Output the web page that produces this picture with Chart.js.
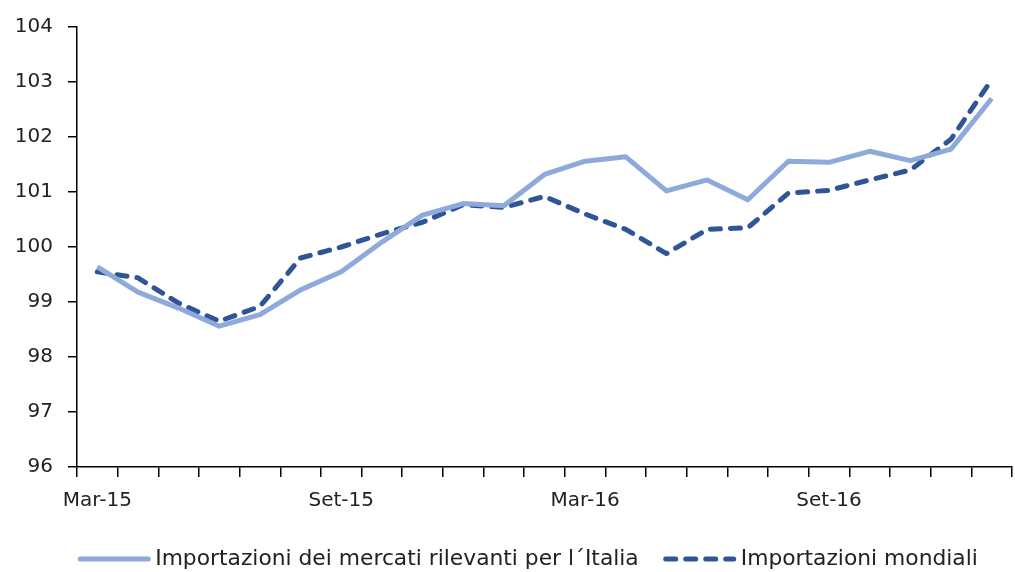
<!DOCTYPE html>
<html>
<head>
<meta charset="utf-8">
<script src="https://cdn.jsdelivr.net/npm/chart.js@4/dist/chart.umd.min.js"></script>
<style>
  html, body { margin: 0; padding: 0; background: #fff; }
  #wrap { width: 1015px; height: 572px; }
</style>
</head>
<body>
<div id="wrap"><canvas id="c" width="1015" height="572"></canvas></div>
<script>
// Monthly index, Mar-15 .. Gen-17
const months = ['Mar-15','Apr-15','Mag-15','Giu-15','Lug-15','Ago-15','Set-15','Ott-15','Nov-15','Dic-15','Gen-16','Feb-16',
                'Mar-16','Apr-16','Mag-16','Giu-16','Lug-16','Ago-16','Set-16','Ott-16','Nov-16','Dic-16','Gen-17'];
const shownMonths = ['Mar-15','Set-15','Mar-16','Set-16'];

const seriesNames = ['Importazioni dei mercati rilevanti per l\u00B4Italia', 'Importazioni mondiali'];

const mercatiRilevanti = [99.64, 99.18, 98.89, 98.56, 98.77, 99.22, 99.55, 100.09, 100.58, 100.79, 100.75, 101.32,
                          101.56, 101.64, 101.02, 101.22, 100.86, 101.56, 101.54, 101.74, 101.57, 101.78, 102.70];
const mondiali = [99.55, 99.44, 98.98, 98.65, 98.92, 99.80, 100.00, 100.24, 100.45, 100.77, 100.72, 100.92,
                  100.60, 100.32, 99.88, 100.32, 100.35, 100.98, 101.03, 101.22, 101.40, 101.96, 103.04];

const yTicks = { min: 96, max: 104, step: 1 };

const FONT = 'DejaVu Sans, Verdana, sans-serif';
const LIGHT = '#8EAADB';
const DARK = '#2F5597';

// Plot frame (pixels) and legend row position
const FRAME = { top: 22, bottom: 467, left: 77, right: 1012 };
const LEGEND_Y = 559;

// Legend drawn below the axis, line samples followed by the series names
const bottomLegend = {
  id: 'bottomLegend',
  afterDraw(chart) {
    const ctx = chart.ctx;
    const sets = chart.data.datasets;
    const sampleW = 72, textGap = 5, itemGap = 25, y = LEGEND_Y;
    ctx.save();
    ctx.font = '21.8px ' + FONT;
    const widths = sets.map(d => ctx.measureText(d.label).width);
    let total = 0;
    widths.forEach((w, i) => { total += sampleW + textGap + w + (i ? itemGap : 0); });
    let x = 528 - total / 2;
    sets.forEach((d, i) => {
      if (i) x += itemGap;
      ctx.beginPath();
      ctx.strokeStyle = d.borderColor;
      ctx.lineWidth = d.borderWidth;
      ctx.lineCap = 'round';
      ctx.setLineDash(d.borderDash || []);
      ctx.moveTo(x + 2, y);
      ctx.lineTo(x + sampleW - 2, y);
      ctx.stroke();
      ctx.setLineDash([]);
      x += sampleW + textGap;
      ctx.fillStyle = '#222';
      ctx.textAlign = 'left';
      ctx.textBaseline = 'middle';
      ctx.fillText(d.label, x, y);
      x += widths[i];
    });
    ctx.restore();
  }
};

new Chart(document.getElementById('c'), {
  type: 'line',
  data: {
    labels: months,
    datasets: [
      {
        label: seriesNames[0],
        data: mercatiRilevanti,
        borderColor: LIGHT,
        backgroundColor: LIGHT,
        borderWidth: 5,
        pointRadius: 0,
        tension: 0,
        borderJoinStyle: 'round'
      },
      {
        label: seriesNames[1],
        data: mondiali,
        borderColor: DARK,
        backgroundColor: DARK,
        borderWidth: 5,
        borderDash: [10, 10],
        borderCapStyle: 'round',
        pointRadius: 0,
        tension: 0,
        borderJoinStyle: 'round'
      }
    ]
  },
  options: {
    responsive: false,
    maintainAspectRatio: false,
    animation: false,
    devicePixelRatio: 1,
    layout: { autoPadding: false, padding: { left: 0, top: FRAME.top, right: 1015 - FRAME.right, bottom: 572 - FRAME.bottom - 53 } },
    plugins: {
      legend: { display: false },
      title: { display: false },
      tooltip: { enabled: false }
    },
    scales: {
      x: {
        offset: true,
        grid: { display: true, offset: true, drawOnChartArea: false, drawTicks: true, tickLength: 10, color: '#000', lineWidth: 1.5 },
        border: { display: true, color: '#000', width: 1.5 },
        ticks: {
          autoSkip: false,
          maxRotation: 0,
          minRotation: 0,
          padding: 12,
          color: '#222',
          font: { family: FONT, size: 20 },
          callback(v) {
            const l = this.getLabelForValue(v);
            return shownMonths.includes(l) ? l : '';
          }
        },
        afterFit(scale) { scale.height = 53; }
      },
      y: {
        min: yTicks.min,
        max: yTicks.max,
        grid: { display: true, drawOnChartArea: false, drawTicks: true, tickLength: 9, color: '#000', lineWidth: 1.5 },
        border: { display: true, color: '#000', width: 1.5 },
        ticks: {
          stepSize: yTicks.step,
          padding: 15,
          color: '#222',
          font: { family: FONT, size: 20 }
        },
        afterFit(scale) { scale.width = FRAME.left; }
      }
    }
  },
  plugins: [bottomLegend]
});
</script>
</body>
</html>
